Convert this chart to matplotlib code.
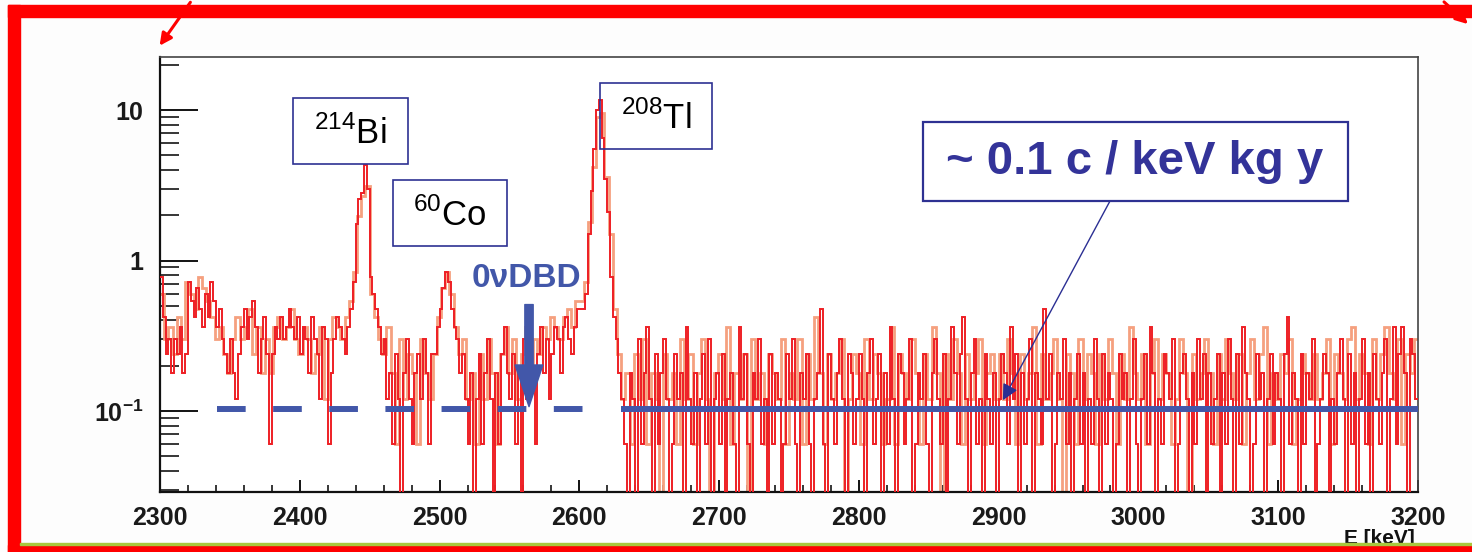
import numpy as np
import matplotlib
matplotlib.use("Agg")
import matplotlib.pyplot as plt
from matplotlib.patches import Rectangle, FancyArrowPatch
from matplotlib.ticker import MultipleLocator, LogLocator, NullFormatter

plt.rcParams['font.family'] = ['Liberation Sans', 'DejaVu Sans']
plt.rcParams['mathtext.fontset'] = 'custom'
plt.rcParams['mathtext.rm'] = 'Liberation Sans'
plt.rcParams['mathtext.bf'] = 'Liberation Sans:bold'

# spectrum data, counts per bin (1 count = 0.06 c/keV/kg/y on the plot)
unit = 0.06
e_start = 2300
dark_bin = 2   # keV
light_bin = 3  # keV

dark_counts = [
    13, 7, 4, 5, 3, 5, 4, 6, 3, 4, 12, 9, 7, 11, 8, 6, 10, 7, 12, 9, 6, 8, 5, 4, 3,
    5, 3, 2, 4, 6, 8, 5, 7, 9, 6, 3, 5, 7, 4, 1, 4, 6, 5, 7, 5, 6, 8, 6, 5, 7,
    4, 6, 5, 3, 7, 5, 4, 2, 6, 5, 1, 3, 5, 7, 6, 5, 4, 6, 8, 12, 29, 43, 47, 72, 50,
    13, 10, 8, 6, 4, 5, 2, 3, 1, 4, 2, 0, 3, 5, 2, 1, 3, 4, 2, 5, 3, 1, 4, 4, 6,
    8, 11, 14, 12, 8, 6, 5, 3, 4, 2, 1, 3, 0, 2, 4, 1, 3, 5, 2, 0, 3, 1, 4, 6, 3,
    2, 4, 1, 3, 0, 5, 2, 4, 3, 1, 4, 6, 3, 5, 2, 4, 6, 5, 3, 6, 7, 5, 4, 6, 8,
    8, 8, 10, 25, 48, 92, 167, 195, 108, 58, 35, 13, 7, 5, 3, 2, 1, 0, 3, 2, 0, 5, 1, 3, 6,
    2, 0, 4, 1, 3, 5, 2, 0, 1, 4, 2, 3, 0, 6, 2, 1, 3, 0, 2, 4, 1, 5, 0, 2, 3,
    1, 4, 0, 2, 3, 1, 0, 6, 2, 4, 1, 0, 3, 2, 5, 1, 2, 0, 4, 1, 3, 2, 0, 1, 4,
    2, 5, 1, 0, 3, 2, 4, 1, 0, 2, 3, 8, 1, 0, 4, 2, 1, 3, 5, 2, 0, 4, 3, 1, 2,
    4, 2, 0, 3, 5, 1, 2, 4, 0, 3, 1, 6, 2, 0, 4, 3, 1, 2, 5, 0, 1, 3, 2, 4, 1,
    0, 3, 5, 2, 1, 4, 0, 2, 6, 3, 1, 4, 7, 2, 0, 3, 5, 1, 2, 0, 4, 2, 1, 3, 0,
    2, 4, 3, 1, 6, 2, 4, 0, 3, 1, 2, 5, 0, 3, 2, 1, 8, 2, 4, 0, 1, 3, 2, 5, 1,
    3, 0, 2, 4, 1, 3, 0, 2, 1, 5, 2, 0, 4, 1, 3, 2, 0, 1, 4, 2, 3, 0, 2, 5, 1,
    0, 2, 4, 1, 6, 3, 0, 2, 1, 4, 3, 2, 5, 0, 1, 3, 4, 2, 0, 3, 1, 5, 2, 4, 0,
    3, 1, 2, 4, 0, 3, 1, 5, 2, 0, 4, 1, 6, 3, 2, 0, 1, 4, 2, 3, 0, 2, 4, 1, 3,
    2, 0, 4, 7, 1, 3, 2, 0, 4, 1, 3, 2, 5, 0, 1, 2, 4, 3, 0, 2, 1, 3, 5, 2, 0,
    4, 1, 3, 0, 2, 5, 1, 3, 0, 4, 2, 1, 3, 5, 0, 2, 6, 1, 4, 6, 3, 0, 5, 4, 2,
]

light_counts = [
    10, 5, 6, 4, 7, 5, 12, 10, 8, 13, 11, 9, 7, 5, 6, 4, 3, 5, 7, 5, 6, 8, 4, 6, 3,
    5, 3, 6, 7, 5, 6, 8, 5, 4, 6, 5, 3, 4, 6, 2, 5, 7, 6, 5, 7, 9, 14, 33, 45, 52,
    10, 7, 5, 4, 6, 3, 1, 5, 2, 4, 3, 1, 5, 3, 2, 4, 7, 11, 14, 10, 6, 4, 5, 2, 3,
    1, 4, 2, 5, 3, 1, 4, 6, 3, 5, 2, 4, 6, 3, 5, 4, 6, 5, 7, 6, 5, 7, 8, 6, 9,
    9, 12, 30, 70, 150, 160, 60, 25, 8, 4, 2, 3, 1, 4, 2, 5, 1, 3, 2, 0, 4, 2, 3, 1, 5,
    2, 4, 1, 3, 5, 2, 0, 3, 4, 2, 6, 1, 3, 2, 4, 0, 5, 2, 3, 1, 4, 3, 2, 5, 1,
    3, 2, 5, 1, 4, 2, 7, 3, 1, 4, 2, 3, 5, 0, 2, 4, 3, 1, 5, 2, 4, 3, 1, 2, 6,
    1, 4, 3, 2, 5, 3, 1, 4, 2, 6, 3, 0, 4, 2, 5, 3, 1, 4, 2, 3, 5, 1, 3, 4, 2,
    4, 2, 5, 3, 1, 4, 2, 3, 6, 1, 4, 2, 3, 5, 2, 0, 4, 3, 1, 5, 2, 4, 3, 1, 4,
    2, 5, 3, 1, 4, 2, 6, 3, 2, 4, 1, 3, 5, 2, 4, 3, 1, 2, 5, 3, 0, 4, 2, 3, 5,
    3, 1, 4, 2, 5, 3, 2, 4, 1, 3, 5, 2, 4, 6, 1, 3, 2, 4, 3, 5, 1, 2, 4, 3, 2,
    4, 2, 3, 5, 1, 4, 3, 2, 5, 6, 2, 4, 3, 1, 5, 2, 4, 6, 3, 2, 5, 1, 4, 3, 5,
]

bkg_level = 0.104          # c/keV/kg/y
roi_start, roi_end = 2341, 2610
bkg_start, bkg_end = 2630, 3200
dbd_energy = 2564
rate_point = (2903, 0.118)

W, H = 1472, 552


def fx(px):
    return px / W


def fy(py):
    return 1 - py / H


fig = plt.figure(figsize=(W / 100, H / 100), dpi=100)
fig.patch.set_facecolor('#fdfdfd')
ax = fig.add_axes([fx(160), fy(492), (1418 - 160) / W, (492 - 57) / H])
ax.set_facecolor('white')

dark = np.array(dark_counts) * unit
light = np.array(light_counts) * unit
dark = np.where(dark > 0, dark, 0.005)
light = np.where(light > 0, light, 0.005)
dark_edges = e_start + dark_bin * np.arange(len(dark) + 1)
light_edges = e_start + light_bin * np.arange(len(light) + 1)

ax.stairs(light, light_edges, baseline=None, color='#f5a07f', lw=2.0, zorder=2)
ax.stairs(dark, dark_edges, baseline=None, color='#ee1f25', lw=1.4, zorder=3)

# background level lines
ax.plot([roi_start, roi_end], [bkg_level, bkg_level], color='#4257a9', lw=4.3,
        dashes=(4.8, 4.6), solid_capstyle='butt', dash_capstyle='butt', zorder=4)
ax.plot([bkg_start, bkg_end], [bkg_level, bkg_level], color='#4257a9', lw=4.3,
        solid_capstyle='butt', zorder=4)

ax.set_yscale('log')
ax.set_xlim(2300, 3200)
ax.set_ylim(0.029, 22.5)

ax.set_xticks(np.arange(2300, 3201, 100))
ax.set_xticklabels([str(v) for v in range(2300, 3201, 100)])
ax.xaxis.set_minor_locator(MultipleLocator(20))
ax.set_yticks([0.1, 1, 10])
ax.set_yticklabels([r'$\mathbf{10^{-1}}$', '1', '10'])
ax.yaxis.set_minor_locator(LogLocator(base=10, subs=np.arange(2, 10)))
ax.yaxis.set_minor_formatter(NullFormatter())

for lab in ax.get_xticklabels() + ax.get_yticklabels():
    lab.set_fontweight('bold')
    lab.set_fontsize(18)
    lab.set_color('#1a1a1a')

ax.tick_params(axis='x', which='major', direction='in', length=9, width=1.3, pad=10)
ax.tick_params(axis='x', which='minor', direction='in', length=5, width=1.1)
ax.tick_params(axis='y', which='major', direction='in', length=27, width=1.3, pad=12)
ax.tick_params(axis='y', which='minor', direction='in', length=14, width=1.1)

for s in ['left', 'bottom']:
    ax.spines[s].set_linewidth(1.6)
    ax.spines[s].set_color('#111111')
for s in ['top', 'right']:
    ax.spines[s].set_linewidth(1.2)
    ax.spines[s].set_color('#444444')

fig.text(fx(1415), fy(538), 'E [keV]', ha='right', va='center',
         fontsize=15, fontweight='bold', color='#111111')

# isotope label boxes
navy = '#2e3192'
boxes = [((293, 98, 408, 164), r'$^{214}$Bi'),
         ((393, 180, 507, 246), r'$^{60}$Co'),
         ((600, 83, 712, 149), r'$^{208}$Tl')]
for (x0, y0, x1, y1), txt in boxes:
    fig.add_artist(Rectangle((fx(x0), fy(y1)), fx(x1) - fx(x0), fy(y0) - fy(y1),
                             transform=fig.transFigure, fill=False,
                             ec=navy, lw=1.2, zorder=5))
    fig.text(fx((x0 + x1) / 2), fy((y0 + y1) / 2 + 2), txt, ha='center', va='center',
             fontsize=25, color='black', zorder=6)

# rate box
fig.add_artist(Rectangle((fx(923), fy(201)), fx(1348) - fx(923), fy(122) - fy(201),
                         transform=fig.transFigure, fill=False, ec=navy, lw=1.6, zorder=5))
fig.text(fx(1135), fy(162), '~ 0.1 c / keV kg y', ha='center', va='center',
         fontsize=34, fontweight='bold', color='#333399', zorder=6)
ax.annotate('', xy=rate_point, xycoords='data',
            xytext=(fx(1110), fy(201)), textcoords='figure fraction',
            arrowprops=dict(arrowstyle='-|>', color='#2b2f93', lw=1.0,
                            mutation_scale=24, shrinkA=0, shrinkB=0), zorder=6)

# 0vDBD arrow
ax.text(dbd_energy - 2, 0.76, '0νDBD', ha='center', va='center', fontsize=24,
        fontweight='bold', color='#4257a9', family=['Liberation Sans', 'DejaVu Sans'],
        zorder=6)
ax.annotate('', xy=(dbd_energy, 0.107), xycoords='data',
            xytext=(dbd_energy, 0.51), textcoords='data',
            arrowprops=dict(arrowstyle='simple,head_length=1.5,head_width=1.0,tail_width=0.3',
                            color='#4257a9', mutation_scale=20, shrinkA=0, shrinkB=0), zorder=6)

# slide frame around the plot
red = '#ff0000'
fig.add_artist(Rectangle((fx(8), 0), fx(20) - fx(8), fy(5), transform=fig.transFigure,
                         color=red, zorder=10))
fig.add_artist(Rectangle((fx(8), fy(17)), 1 - fx(8), fy(5) - fy(17),
                         transform=fig.transFigure, color=red, zorder=10))
fig.add_artist(Rectangle((fx(8), 0), 1 - fx(8), fy(545), transform=fig.transFigure,
                         color=red, zorder=10))
fig.add_artist(Rectangle((fx(20), fy(545)), 1 - fx(20), fy(543) - fy(545),
                         transform=fig.transFigure, color='#a8c83c', zorder=10))
fig.add_artist(FancyArrowPatch((fx(192), 1.0), (fx(158), fy(48)), transform=fig.transFigure,
                               arrowstyle='-|>', mutation_scale=18, color=red, lw=2.2, zorder=10))
fig.add_artist(FancyArrowPatch((fx(1442), 1.0), (fx(1470), fy(26)), transform=fig.transFigure,
                               arrowstyle='-|>', mutation_scale=18, color=red, lw=2.2, zorder=10))

fig.savefig('out.png', dpi=100, facecolor=fig.get_facecolor())
